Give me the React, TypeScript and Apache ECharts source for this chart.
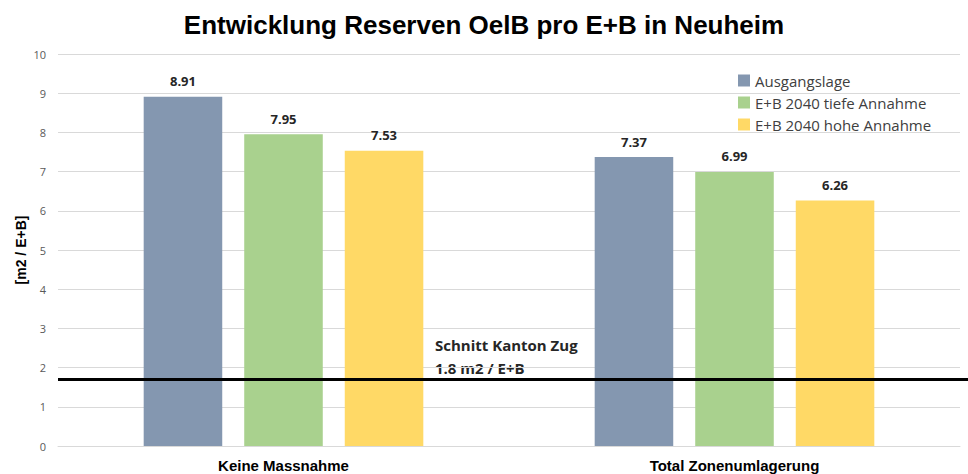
import React, { useEffect, useRef } from "react";
import * as echarts from "echarts";

const categories = ["Keine Massnahme", "Total Zonenumlagerung"];
const seriesNames = ["Ausgangslage", "E+B 2040 tiefe Annahme", "E+B 2040 hohe Annahme"];
const ausgangslage = [8.91, 7.37];
const tiefe = [7.95, 6.99];
const hohe = [7.53, 6.26];
const kantonSchnitt = 1.7;
const colors = ["#8497B0", "#A9D18E", "#FFD966"];

export default function App() {
  const ref = useRef<HTMLDivElement>(null);
  useEffect(() => {
    if (!ref.current) return;
    const chart = echarts.init(ref.current, null, { renderer: "svg" });
    const values = [ausgangslage, tiefe, hohe];
    chart.setOption({
      animation: false,
      title: {
        text: "Entwicklung Reserven OelB pro E+B in Neuheim",
        left: "center",
        top: 7,
        textStyle: { fontFamily: "Liberation Sans Narrow, Liberation Sans, Arial", fontWeight: "bold", fontSize: 26, color: "#000" },
      },
      legend: {
        orient: "vertical",
        left: 733,
        top: 68,
        itemWidth: 12,
        itemHeight: 12,
        itemGap: 7,
        icon: "rect",
        textStyle: { fontFamily: "Open Sans, Noto Sans", fontSize: 15, color: "#404040" },
        data: seriesNames,
      },
      grid: { left: 58, right: 8, top: 54, bottom: 28, containLabel: false },
      xAxis: {
        type: "category",
        data: categories,
        axisLine: { lineStyle: { color: "#d9d9d9", width: 1 } },
        axisTick: { show: false },
        axisLabel: { fontFamily: "Liberation Sans Narrow, Liberation Sans, Arial", fontWeight: "bold", fontSize: 15, color: "#000", margin: 12 },
      },
      yAxis: {
        type: "value",
        min: 0,
        max: 10,
        interval: 1,
        name: "[m2 / E+B]",
        nameLocation: "middle",
        nameGap: 30,
        nameMoveOverlap: false,
        nameTextStyle: { fontFamily: "Liberation Sans", fontWeight: "bold", fontSize: 14, color: "#000" },
        axisLine: { show: false },
        axisTick: { show: false },
        axisLabel: { fontFamily: "Open Sans, Noto Sans", fontSize: 11, color: "#595959", margin: 12 },
        splitLine: { lineStyle: { color: "#d9d9d9", width: 1 } },
      },
      series: seriesNames.map((name, i) => ({
        name,
        type: "bar",
        data: values[i],
        barGap: "28%",
        barCategoryGap: "38%",
        itemStyle: { color: colors[i] },
        label: {
          show: true,
          position: "top",
          distance: 9,
          formatter: (p: any) => p.value.toFixed(2),
          fontFamily: "Open Sans, Noto Sans",
          fontWeight: "bold",
          fontSize: 13,
          color: "#262626",
        },
        ...(i === 0
          ? {
              markLine: {
                silent: true,
                symbol: "none",
                lineStyle: { color: "#000", width: 3, type: "solid" },
                label: { show: false },
                data: [[{ yAxis: kantonSchnitt, x: 58 }, { yAxis: kantonSchnitt, x: 968 }]],
              },
            }
          : {}),
      })),
      graphic: [
        {
          type: "text",
          left: 435,
          top: 333,
          style: {
            text: "Schnitt Kanton Zug\n1.8 m2 / E+B",
            fontFamily: "Open Sans, Noto Sans",
            fontWeight: "bold",
            fontSize: 15,
            lineHeight: 23,
            fill: "#262626",
          },
        },
      ],
    });
    return () => chart.dispose();
  }, []);
  return <div ref={ref} style={{ width: 968, height: 474, position: "absolute", left: 0, top: 0 }} />;
}
